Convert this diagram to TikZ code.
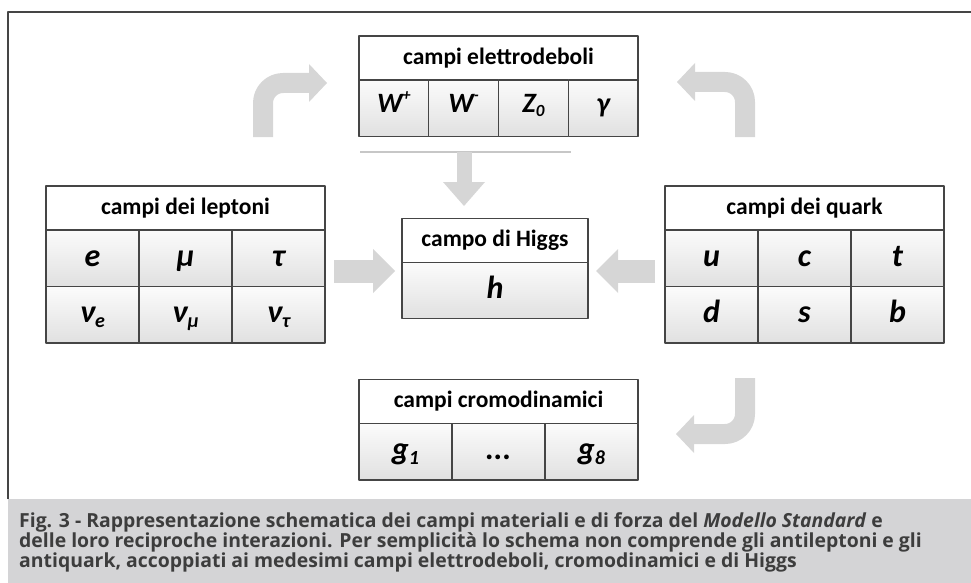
\documentclass[tikz,border=0pt]{standalone}
\usepackage{fontspec}
\setmainfont{Carlito}
\newfontfamily\capfont{Open Sans}
\usetikzlibrary{positioning,arrows.meta}
\definecolor{framegray}{rgb}{0.27,0.27,0.27}
\definecolor{arrowgray}{rgb}{0.84,0.84,0.84}
\definecolor{rulegray}{rgb}{0.78,0.78,0.78}
\definecolor{bandgray}{rgb}{0.83,0.83,0.84}
\definecolor{captext}{rgb}{0.24,0.24,0.24}
\newcommand\upidx[1]{\raisebox{0.85ex}{\fontsize{16}{16}\selectfont #1}}
\newcommand\lowidx[2][20]{\raisebox{-0.3ex}{\fontsize{#1}{#1}\selectfont #2}}
\tikzset{
  hdr/.style={draw=framegray,line width=1.3pt,fill=white,minimum height=44pt,
    inner sep=0pt,outer sep=0pt,font=\fontsize{23.5}{23.5}\selectfont\bfseries},
  fcell/.style={draw=framegray,line width=1.3pt,top color=gray!3,bottom color=gray!24,
    minimum height=56.5pt,minimum width=93pt,inner sep=0pt,outer sep=0pt,
    text height=20pt,text depth=4pt,
    font=\fontsize{32}{32}\selectfont\bfseries\itshape},
  ewcell/.style={fcell,minimum width=69.75pt,text height=17pt,text depth=9pt,
    font=\fontsize{28}{28}\selectfont\bfseries\itshape},
  bendarrow/.style={draw=arrowgray,line width=20pt,rounded corners=20pt,
    -{Triangle[length=18pt 0,width=38pt 0,line width=0pt 0]}},
  flatarrow/.style={draw=arrowgray,line width=23pt,
    -{Triangle[length=22pt 0,width=44pt 0,line width=0pt 0]}},
  caprow/.style={anchor=base west,inner sep=0pt,text=captext,
    font=\fontsize{19.4}{20}\selectfont\capfont\bfseries}
}
\begin{document}
\begin{tikzpicture}[x=1pt,y=-1pt,line cap=butt,line join=round]
\useasboundingbox (0,0) rectangle (971,583);
% frame and caption band
\fill[bandgray] (8,499) rectangle (971,583);
\draw[framegray,line width=1.3pt] (8,499) -- (8,12) -- (971,12);
\node[caprow] (cap1) at (19,527) {Fig. 3 - Rappresentazione schematica dei campi materiali e di forza del \textit{Modello Standard} e};
\node[caprow] (cap2) at (19,547) {delle loro reciproche interazioni. Per semplicità lo schema non comprende gli antileptoni e gli};
\node[caprow] (cap3) at (19,567) {antiquark, accoppiati ai medesimi campi elettrodeboli, cromodinamici e di Higgs};

% campi elettrodeboli
\node[hdr,minimum width=279pt] (ew) at (498.5,58) {campi elettrodeboli};
\node[ewcell,below right=0pt of ew.south west] (ew1) {W\upidx{+}};
\node[ewcell,right=0pt of ew1] (ew2) {W\upidx{-}};
\node[ewcell,right=0pt of ew2] (ew3) {Z\lowidx[17]{0}};
\node[ewcell,right=0pt of ew3] (ew4) {γ};
\draw[rulegray,line width=1.2pt] (360,152) -- (571,152);

% campo di Higgs
\node[hdr,minimum width=186pt] (hig) at (495,240.5) {campo di Higgs};
\node[fcell,minimum width=186pt,minimum height=56pt,below=0pt of hig] (hig1) {h};

% campi dei leptoni
\node[hdr,minimum width=279pt] (lep) at (185.5,208) {campi dei leptoni};
\node[fcell,below right=0pt of lep.south west] (lep1) {e};
\node[fcell,right=0pt of lep1] (lep2) {μ};
\node[fcell,right=0pt of lep2] (lep3) {τ};
\node[fcell,below=0pt of lep1] (lep4) {ν\lowidx{e}};
\node[fcell,below=0pt of lep2] (lep5) {ν\lowidx{μ}};
\node[fcell,below=0pt of lep3] (lep6) {ν\lowidx{τ}};

% campi dei quark
\node[hdr,minimum width=279pt] (qk) at (804.5,208) {campi dei quark};
\node[fcell,below right=0pt of qk.south west] (qk1) {u};
\node[fcell,right=0pt of qk1] (qk2) {c};
\node[fcell,right=0pt of qk2] (qk3) {t};
\node[fcell,below=0pt of qk1] (qk4) {d};
\node[fcell,below=0pt of qk2] (qk5) {s};
\node[fcell,below=0pt of qk3] (qk6) {b};

% campi cromodinamici
\node[hdr,minimum width=279pt] (cro) at (498.5,401.5) {campi cromodinamici};
\node[fcell,below right=0pt of cro.south west] (cro1) {g\lowidx{1}};
\node[fcell,right=0pt of cro1] (cro2) {...};
\node[fcell,right=0pt of cro2] (cro3) {g\lowidx{8}};

% frecce
\coordinate (lepout) at (334,271);
\coordinate (higinl) at (395,271);
\coordinate (qkout) at (655,271);
\coordinate (higinr) at (596,271);
\coordinate (ewout) at (464,152);
\coordinate (higintop) at (464,206);
\coordinate (lepup) at (263,137);
\coordinate (ewinl) at (327,83);
\coordinate (qkup) at (745,137);
\coordinate (ewinr) at (677,82);
\coordinate (qkdown) at (745,378);
\coordinate (croin) at (676,434);
\draw[flatarrow] (lepout) -- (higinl);
\draw[flatarrow] (qkout) -- (higinr);
\draw[draw=arrowgray,line width=15pt,-{Triangle[length=24pt 0,width=42pt 0,line width=0pt 0]}] (ewout) -- (higintop);
\draw[bendarrow] (lepup) |- (ewinl);
\draw[bendarrow] (qkup) |- (ewinr);
\draw[bendarrow] (qkdown) |- (croin);
\end{tikzpicture}
\end{document}
